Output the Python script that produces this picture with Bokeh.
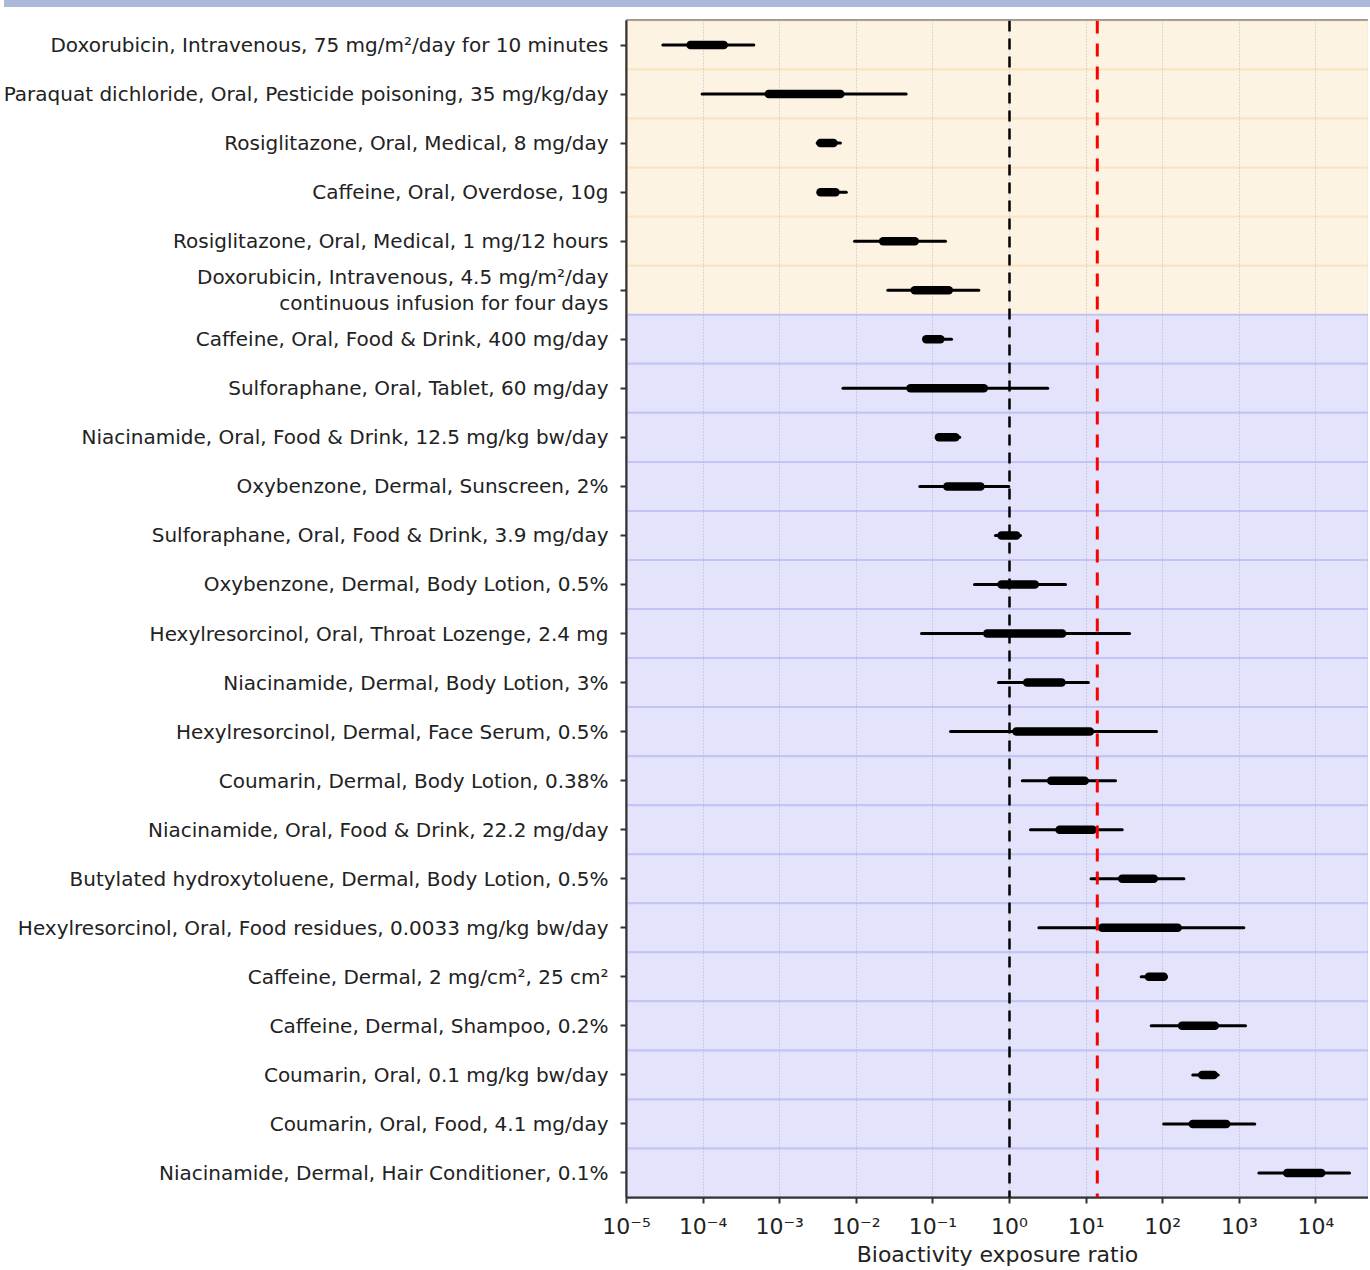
from bokeh.plotting import figure
from bokeh.models import FixedTicker, Span, Range1d, ColumnDataSource, Div
from bokeh.layouts import column
from bokeh.embed import file_html
from bokeh.resources import INLINE

# ---------------- data (top row first) ----------------
labels = [
    "Doxorubicin, Intravenous, 75 mg/m²/day for 10 minutes",
    "Paraquat dichloride, Oral, Pesticide poisoning, 35 mg/kg/day",
    "Rosiglitazone, Oral, Medical, 8 mg/day",
    "Caffeine, Oral, Overdose, 10g",
    "Rosiglitazone, Oral, Medical, 1 mg/12 hours",
    "Doxorubicin, Intravenous, 4.5 mg/m²/day continuous infusion for four days",
    "Caffeine, Oral, Food & Drink, 400 mg/day",
    "Sulforaphane, Oral, Tablet, 60 mg/day",
    "Niacinamide, Oral, Food & Drink, 12.5 mg/kg bw/day",
    "Oxybenzone, Dermal, Sunscreen, 2%",
    "Sulforaphane, Oral, Food & Drink, 3.9 mg/day",
    "Oxybenzone, Dermal, Body Lotion, 0.5%",
    "Hexylresorcinol, Oral, Throat Lozenge, 2.4 mg",
    "Niacinamide, Dermal, Body Lotion, 3%",
    "Hexylresorcinol, Dermal, Face Serum, 0.5%",
    "Coumarin, Dermal, Body Lotion, 0.38%",
    "Niacinamide, Oral, Food & Drink, 22.2 mg/day",
    "Butylated hydroxytoluene, Dermal, Body Lotion, 0.5%",
    "Hexylresorcinol, Oral, Food residues, 0.0033 mg/kg bw/day",
    "Caffeine, Dermal, 2 mg/cm², 25 cm²",
    "Caffeine, Dermal, Shampoo, 0.2%",
    "Coumarin, Oral, 0.1 mg/kg bw/day",
    "Coumarin, Oral, Food, 4.1 mg/day",
    "Niacinamide, Dermal, Hair Conditioner, 0.1%",
]
group = ["Medical / poisoning"] * 6 + ["Consumer"] * 18

ratio_min = [2.98e-5, 9.7e-5, 3.08e-3, 3.24e-3, 9.5e-3, 0.0258, 0.078, 6.7e-3,
             0.114, 0.0675, 0.656, 0.349, 0.071, 0.718, 0.170, 1.47, 1.88, 11.6,
             2.42, 52.4, 70.8, 247, 103, 1800]
ratio_q1 = [6.85e-5, 7.2e-4, 3.41e-3, 3.41e-3, 0.0224, 0.058, 0.082, 0.051,
            0.120, 0.154, 0.787, 0.787, 0.512, 1.70, 1.23, 3.50, 4.50, 29.6,
            16.2, 65.9, 179, 328, 247, 4217]
ratio_q3 = [1.86e-4, 6.2e-3, 5.04e-3, 5.35e-3, 0.058, 0.161, 0.125, 0.462,
            0.197, 0.418, 1.23, 2.14, 4.88, 4.78, 11.2, 9.6, 12.2, 76.6,
            157, 103, 479, 465, 675, 11722]
ratio_max = [4.59e-4, 0.0448, 6.2e-3, 7.4e-3, 0.146, 0.397, 0.175, 3.16,
             0.224, 0.98, 1.39, 5.38, 36.9, 10.7, 83, 24.2, 29.6, 189,
             1146, 111, 1205, 530, 1592, 27480]

threshold_one = 1.0
threshold_red = 14.0

x_ticks = [1e-5, 1e-4, 1e-3, 1e-2, 1e-1, 1e0, 1e1, 1e2, 1e3, 1e4]
x_tick_labels = ["10⁻⁵", "10⁻⁴", "10⁻³", "10⁻²", "10⁻¹", "10⁰", "10¹", "10²", "10³", "10⁴"]

# ---------------- styling ----------------
FILL = {"Medical / poisoning": "#fdf3e2", "Consumer": "#e3e3fc"}
EDGE = {"Medical / poisoning": "#fbe4c3", "Consumer": "#c3c3f6"}
FONT = "DejaVu Sans"

FRAME_LEFT = 627
FRAME_W = 742
PX_PER_DEC = 76.6
WRAP_AT = 45   # very long tick labels are split on two lines


def wrap(s, n=WRAP_AT):
    if len(s) <= n + 20:
        return s
    cut = s.rfind(" ", 0, n)
    return s[:cut] + "\n" + s[cut + 1:]


n = len(labels)
row_pos = [n - 1 - i for i in range(n)]   # first label at the top

src = ColumnDataSource(dict(
    y=row_pos, lo=ratio_min, q1=ratio_q1, q3=ratio_q3, hi=ratio_max,
    fill=[FILL[g] for g in group], edge=[EDGE[g] for g in group],
    left=[1e-7] * n, right=[1e7] * n,
))

x_end = 10 ** (-5 + FRAME_W / PX_PER_DEC)
p = figure(
    frame_width=FRAME_W, frame_height=1177,
    x_axis_type="log", x_range=Range1d(1e-5, x_end),
    y_range=Range1d(-0.5, n - 0.5),
    output_backend="svg", toolbar_location=None,
    min_border_left=FRAME_LEFT, min_border_right=0, min_border_top=8, min_border_bottom=0,
    background_fill_color="white", border_fill_color="white",
)

# row bands
p.hbar(y="y", height=1, left="left", right="right", source=src,
       fill_color="fill", line_color="edge", line_width=2, level="image")

# whiskers
p.segment(x0="lo", x1="hi", y0="y", y1="y", source=src,
          line_color="black", line_width=3, line_cap="round")
p.segment(x0="q1", x1="q3", y0="y", y1="y", source=src,
          line_color="black", line_width=8.5, line_cap="round")

p.add_layout(Span(location=threshold_one, dimension="height", line_color="black",
                  line_width=2.5, line_dash="11 7"))
p.add_layout(Span(location=threshold_red, dimension="height", line_color="red",
                  line_width=3, line_dash="13 10"))

# grid
p.ygrid.grid_line_color = None
p.xgrid.ticker = FixedTicker(ticks=x_ticks)
p.xgrid.grid_line_color = "#a9a9c4"
p.xgrid.grid_line_width = 1
p.xgrid.grid_line_dash = "1 2"
p.xgrid.grid_line_alpha = 0.8

# axes
p.xaxis.ticker = FixedTicker(ticks=x_ticks)
p.xaxis.major_label_overrides = {t: s for t, s in zip(x_ticks, x_tick_labels)}
p.xaxis.axis_label = "Bioactivity exposure ratio"
p.xaxis.axis_label_text_font = FONT
p.xaxis.axis_label_text_font_style = "normal"
p.xaxis.axis_label_text_font_size = "22px"
p.xaxis.axis_label_text_color = "#222222"
p.xaxis.axis_label_standoff = 0
p.xaxis.major_label_text_font = FONT
p.xaxis.major_label_text_font_size = "22px"
p.xaxis.major_label_text_color = "#222222"
p.xaxis.major_label_standoff = 10
p.xaxis.minor_tick_line_color = None

p.yaxis.ticker = FixedTicker(ticks=row_pos)
p.yaxis.major_label_overrides = {pos: wrap(s) for pos, s in zip(row_pos, labels)}
p.yaxis.minor_tick_line_color = None
p.yaxis.major_label_text_font = FONT
p.yaxis.major_label_text_font_size = "20px"
p.yaxis.major_label_text_color = "#222222"
p.yaxis.major_label_text_line_height = 1.1
p.yaxis.major_label_standoff = 12

for ax in (p.xaxis, p.yaxis):
    ax.axis_line_color = "#333333"
    ax.axis_line_width = 2
    ax.major_tick_line_color = "#333333"
    ax.major_tick_line_width = 2
    ax.major_tick_out = 6
    ax.major_tick_in = 0

p.outline_line_color = "#333333"
p.outline_line_width = 2
p.outline_line_alpha = 1

band = Div(width=FRAME_LEFT + FRAME_W, height=10, styles={"background-color": "#a9b9d7"})
layout = column(band, p, spacing=0,
                styles={"margin-left": "-1px", "margin-top": "-8px"})

open("out.html", "w").write(file_html(layout, INLINE))
